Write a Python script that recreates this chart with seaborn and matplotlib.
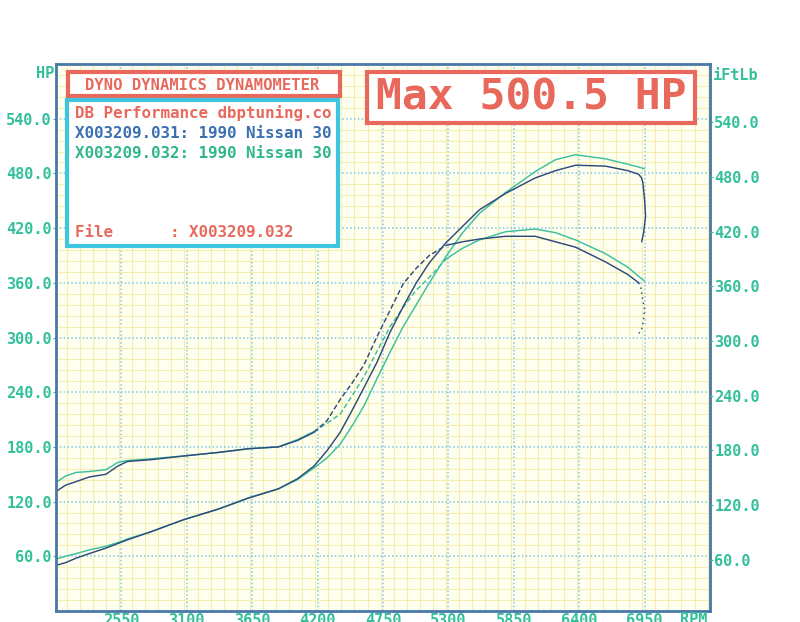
import matplotlib
matplotlib.use("Agg")
import matplotlib.pyplot as plt
import matplotlib.patches as patches
from matplotlib.ticker import MultipleLocator
import seaborn as sns
import pandas as pd

# ---------------- data (read from the dyno sheet) ----------------
rpm = [2000, 2080, 2170, 2280, 2420, 2520, 2600, 2800, 3070, 3370, 3620, 3870,
       4030, 4170, 4280, 4390, 4490, 4590, 4700, 4810, 4920, 5030, 5140, 5280,
       5420, 5560, 5780, 6030, 6200, 6370, 6620, 6810, 6900]

hp_031 = [50, 53, 58, 63, 69, 74, 78, 87, 100, 112, 124, 134,
          145, 159, 176, 196, 220, 245, 273, 306, 334, 360, 382, 404,
          422, 440, 458, 475, 483, 489, 488, 483, 479]
hp_031_tail_rpm = [6925, 6935, 6950, 6958, 6942, 6925]
hp_031_tail = [475, 470, 451, 433, 415, 405]

hp_032 = [57, 60, 63, 67, 71, 75, 79, 87, 100, 112, 124, 134,
          144, 157, 168, 183, 203, 225, 255, 284, 312, 336, 360, 389,
          415, 436, 459, 482, 495, 500.5, 496, 490, 487]
hp_032_end_rpm = [6950]
hp_032_end = [485]

tq_031 = [131, 138, 142, 147, 150, 159, 164, 166, 170, 174, 178, 180,
          187, 196, 209, 232, 250, 270, 301, 330, 359, 376, 390, 401,
          405, 408, 411, 411, 405, 399, 383, 369, 360]
tq_031_tail_rpm = [6917, 6933, 6950, 6942, 6925, 6900]
tq_031_tail = [355, 342, 331, 320, 309, 304]

tq_032 = [141, 148, 152, 153, 155, 163, 165, 167, 170, 174, 178, 180,
          188, 197, 206, 216, 236, 257, 285, 312, 333, 352, 366, 386,
          398, 407, 416, 419, 415, 407, 392, 377, 367]
tq_032_end_rpm = [6950]
tq_032_end = [362]

x_ticks = [2550, 3100, 3650, 4200, 4750, 5300, 5850, 6400, 6950]
y_ticks = [60, 120, 180, 240, 300, 360, 420, 480, 540]

header_text = "DYNO DYNAMICS DYNAMOMETER"
legend_lines = ["DB Performance dbptuning.co",
                "X003209.031: 1990 Nissan 30",
                "X003209.032: 1990 Nissan 30"]
file_text = "File      : X003209.032"
max_text = "Max 500.5 HP"

# ---------------- style ----------------
sns.set_style("white")
plt.rcParams['font.family'] = ['DejaVu Sans Mono', 'DejaVu Sans']

W, H = 800, 622
fig = plt.figure(figsize=(W / 100, H / 100), dpi=100)
fig.patch.set_facecolor("white")

L, R, T, B = 56, 710, 64, 611
ax = fig.add_axes([L / W, 1 - B / H, (R - L) / W, (B - T) / H])
ax.set_facecolor("#FFFFEF")

DARK = "#2f4a7c"
GREEN = "#3cc0a0"
TEAL_TXT = "#33c09a"
RED = "#e8695c"
FRAME = "#4a78a8"

# steep section (boost onset) is drawn dashed for the torque traces, like the sheet
S0, S1 = 13, 23  # index range of the dashed torque section

df031 = pd.DataFrame({"rpm": rpm + hp_031_tail_rpm, "v": hp_031 + hp_031_tail})
df032 = pd.DataFrame({"rpm": rpm + hp_032_end_rpm, "v": hp_032 + hp_032_end})

rpm_032 = rpm + tq_032_end_rpm
tq_032_all = tq_032 + tq_032_end
dt031_a = pd.DataFrame({"rpm": rpm[:S0 + 1], "v": tq_031[:S0 + 1]})
dt031_b = pd.DataFrame({"rpm": rpm[S0:S1 + 1], "v": tq_031[S0:S1 + 1]})
dt031_c = pd.DataFrame({"rpm": rpm[S1:], "v": tq_031[S1:]})
dt031_t = pd.DataFrame({"rpm": [rpm[-1]] + tq_031_tail_rpm, "v": [tq_031[-1]] + tq_031_tail})
dt032_a = pd.DataFrame({"rpm": rpm_032[:S0 + 1], "v": tq_032_all[:S0 + 1]})
dt032_b = pd.DataFrame({"rpm": rpm_032[S0:S1 + 1], "v": tq_032_all[S0:S1 + 1]})
dt032_c = pd.DataFrame({"rpm": rpm_032[S1:], "v": tq_032_all[S1:]})

LW = 1.05
kw = dict(x="rpm", y="v", ax=ax, sort=False, estimator=None, linewidth=LW, legend=False)
dash = (0, (3.5, 1.8))
sns.lineplot(data=dt032_a, color=GREEN, **kw)
sns.lineplot(data=dt032_b, color=GREEN, linestyle=dash, **kw)
sns.lineplot(data=dt032_c, color=GREEN, **kw)
sns.lineplot(data=df032, color=GREEN, **kw)
sns.lineplot(data=dt031_a, color=DARK, **kw)
sns.lineplot(data=dt031_b, color=DARK, linestyle=dash, **kw)
sns.lineplot(data=dt031_c, color=DARK, **kw)
sns.lineplot(data=df031, color=DARK, **kw)
sns.lineplot(data=dt031_t, color=DARK, linestyle=(0, (1, 2.5)), **kw)

ax.set_xlim(2000, 7500)
ax.set_ylim(0, 600)
ax.set_xlabel("")
ax.set_ylabel("")

# grids
ax.xaxis.set_minor_locator(MultipleLocator(110))
ax.yaxis.set_minor_locator(MultipleLocator(12))
ax.set_xticks(x_ticks)
ax.set_yticks(y_ticks)
ax.grid(which="minor", color="#F3EEB4", linewidth=0.8, linestyle="-")
ax.grid(which="major", color="#80c6e8", linewidth=1.1, linestyle=(0, (1, 1.5)))
ax.set_axisbelow(True)

ax.set_xticklabels([str(v) for v in x_ticks])
ax.set_yticklabels([f"{v:.1f}" for v in y_ticks])
ax.tick_params(axis="both", which="minor", length=0)
ax.tick_params(axis="x", which="major", length=0, pad=1.5, labelsize=11, labelcolor=TEAL_TXT)
ax.tick_params(axis="y", which="major", length=2, color=TEAL_TXT, pad=1, labelsize=11,
               labelcolor=TEAL_TXT)
for lab in ax.get_xticklabels() + ax.get_yticklabels():
    lab.set_fontweight("bold")

for s in ax.spines.values():
    s.set_color(FRAME)
    s.set_linewidth(2)

# right axis
ax2 = ax.twinx()
ax2.set_ylim(3.8, 603.8)
ax2.set_yticks(y_ticks)
ax2.set_yticklabels([f"{v:.1f}" for v in y_ticks])
ax2.tick_params(axis="y", length=2, color=TEAL_TXT, pad=1, labelsize=11, labelcolor=TEAL_TXT)
for lab in ax2.get_yticklabels():
    lab.set_fontweight("bold")
for s in ax2.spines.values():
    s.set_visible(False)
ax2.grid(False)


def fx(x):
    return x / W


def fy(y):
    return 1 - y / H


# axis unit labels
fig.text(fx(45), fy(73), "HP", color=TEAL_TXT, fontsize=11, fontweight="bold",
         ha="center", va="center")
fig.text(fx(713), fy(75), "iFtLb", color=TEAL_TXT, fontsize=11, fontweight="bold",
         ha="left", va="center")
fig.text(fx(680), fy(619), "RPM", color=TEAL_TXT, fontsize=11, fontweight="bold",
         ha="left", va="center")


def box(x0, y0, x1, y1, ec):
    r = patches.Rectangle((fx(x0), fy(y1)), fx(x1) - fx(x0), (y1 - y0) / H,
                          transform=fig.transFigure, facecolor="white", edgecolor=ec,
                          linewidth=3, zorder=5)
    fig.add_artist(r)


box(68, 72, 340, 96, RED)
fig.text(fx(202), fy(85), header_text, color=RED, fontsize=11.2, fontweight="bold",
         ha="center", va="center", zorder=6)

box(67, 100, 338, 246, "#3ec6e0")
fig.text(fx(75), fy(113), legend_lines[0], color=RED, fontsize=11.4, fontweight="bold",
         ha="left", va="center", zorder=6)
fig.text(fx(75), fy(133), legend_lines[1], color="#3a6fb0", fontsize=11.4,
         fontweight="bold", ha="left", va="center", zorder=6)
fig.text(fx(75), fy(153), legend_lines[2], color="#2fb68c", fontsize=11.4,
         fontweight="bold", ha="left", va="center", zorder=6)
fig.text(fx(75), fy(232), file_text, color=RED, fontsize=11.4, fontweight="bold",
         ha="left", va="center", zorder=6)

box(367, 72, 695, 123, RED)
fig.text(fx(531), fy(98), max_text, color=RED, fontsize=31, fontweight="bold",
         ha="center", va="center", zorder=6)

fig.savefig("out.png", dpi=100, facecolor="white")
